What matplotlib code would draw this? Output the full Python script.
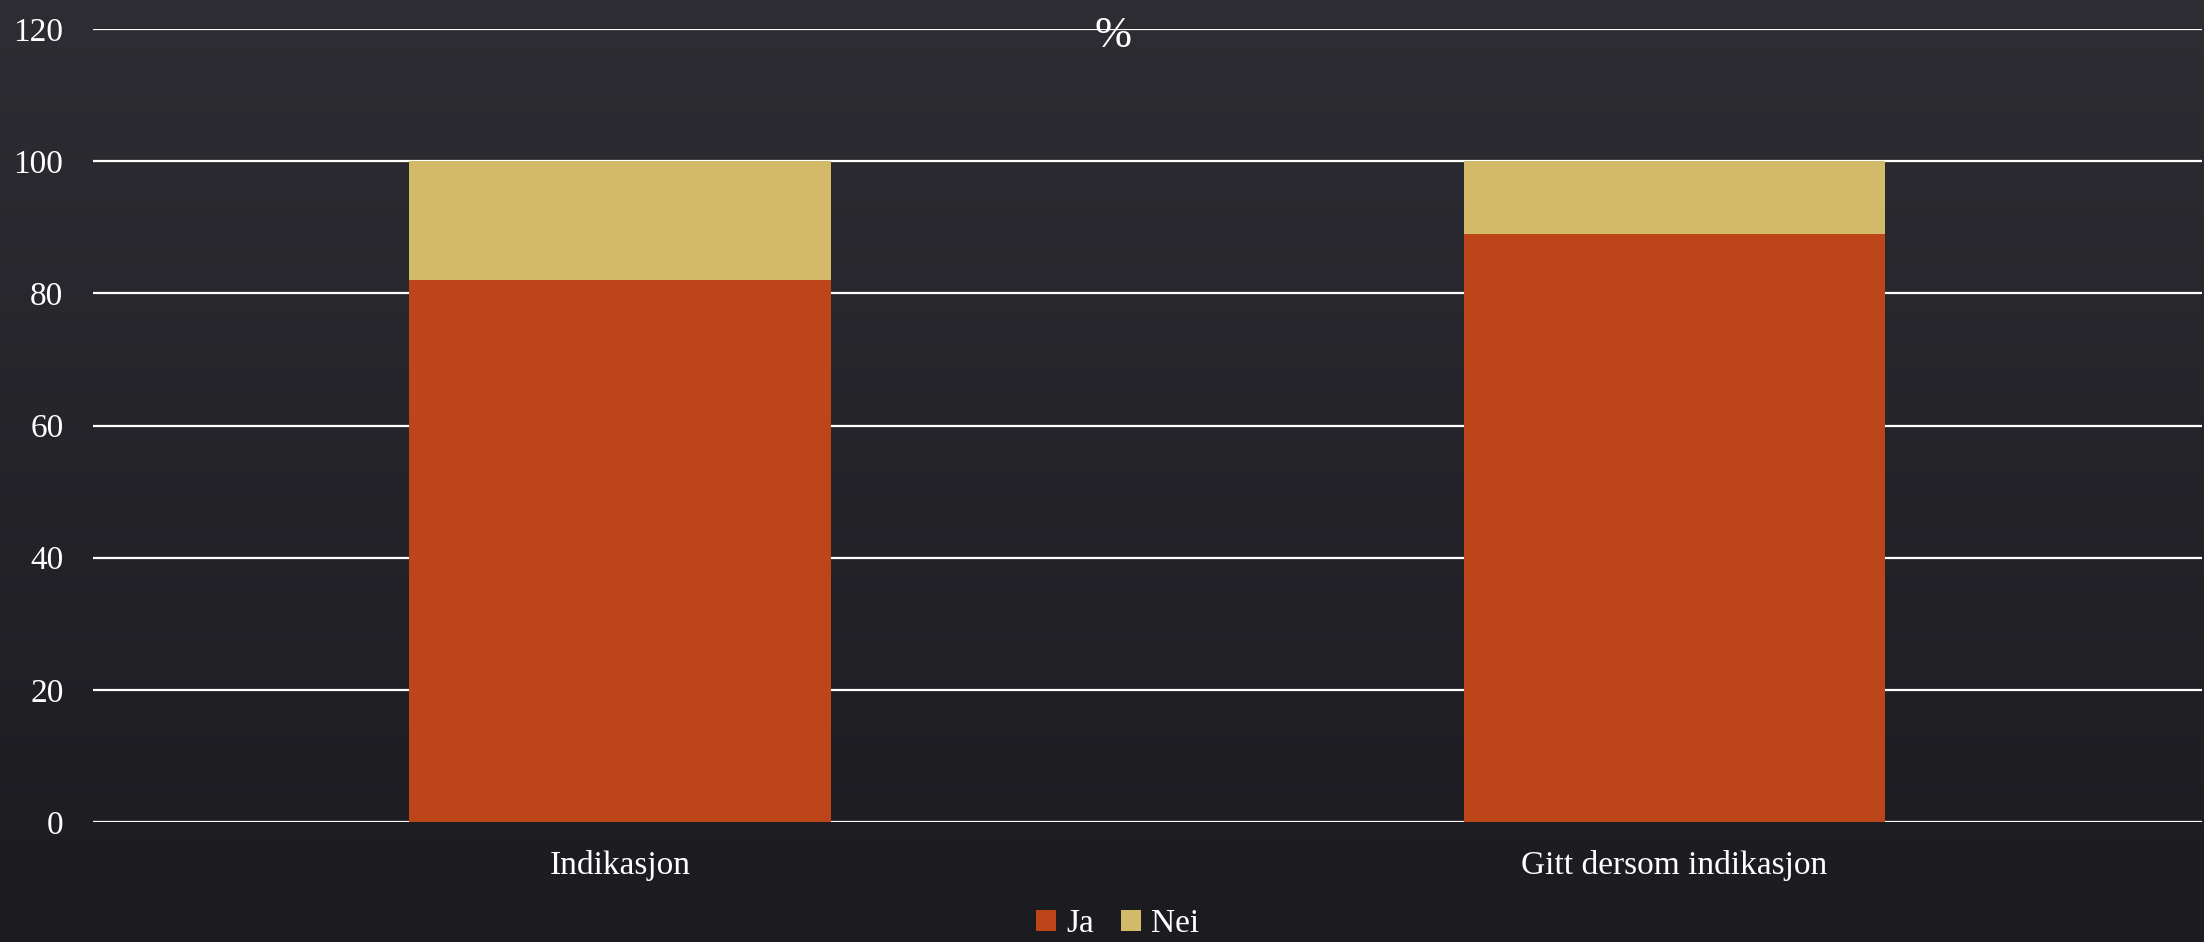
import numpy as np
import matplotlib.pyplot as plt

categories = ["Indikasjon", "Gitt dersom indikasjon"]
ja = [82, 89]
nei = [18, 11]
series_names = ["Ja", "Nei"]
colors = ["#BC461A", "#D3BA68"]
yticks = [0, 20, 40, 60, 80, 100, 120]

plt.rcParams['font.family'] = ['Liberation Serif', 'DejaVu Serif']

fig = plt.figure(figsize=(22.04, 9.42), dpi=100)

# dark slate background, a bit lighter at the top
bg = fig.add_axes([0, 0, 1, 1], zorder=-10)
grad = np.linspace(0, 1, 256).reshape(-1, 1)
top = np.array([46, 45, 51]) / 255
bot = np.array([28, 27, 32]) / 255
img = top[None, None, :] * (1 - grad[:, :, None]) + bot[None, None, :] * grad[:, :, None]
bg.imshow(img, aspect='auto', extent=[0, 1, 0, 1])
bg.axis('off')

ax = fig.add_axes([0.042, 0.1274, 0.957, 0.8418])
ax.set_facecolor('none')

x = np.arange(len(categories))
ax.bar(x, ja, width=0.4, color=colors[0], label=series_names[0], zorder=3)
ax.bar(x, nei, width=0.4, bottom=ja, color=colors[1], label=series_names[1], zorder=3)

ax.set_xlim(-0.5, 1.5)
ax.set_ylim(0, 120)
ax.set_yticks(yticks)
ax.set_xticks(x)
ax.set_xticklabels(categories)
ax.grid(axis='y', color='white', linewidth=1.6, zorder=1)
ax.tick_params(axis='both', length=0, colors='white', labelsize=24)
ax.tick_params(axis='y', pad=21)
ax.tick_params(axis='x', pad=20)
for s in ax.spines.values():
    s.set_visible(False)

fig.text(0.505, 0.962, "%", color='white', fontsize=32, ha='center', va='center')

fig.legend(loc='lower center', ncol=2, frameon=False, fontsize=24,
           labelcolor='white', handlelength=0.6, handleheight=0.6,
           handletextpad=0.3, columnspacing=0.8, borderaxespad=0.0,
           bbox_to_anchor=(0.507, -0.011))

fig.savefig("out.png", dpi=100)
